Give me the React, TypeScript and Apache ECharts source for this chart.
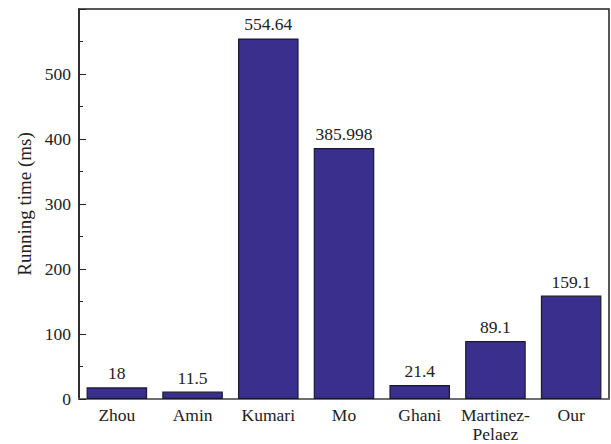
import React, { useEffect, useRef } from "react";
import * as echarts from "echarts";

const categories = ["Zhou", "Amin", "Kumari", "Mo", "Ghani", "Martinez-\nPelaez", "Our"];
const values = [18, 11.5, 554.64, 385.998, 21.4, 89.1, 159.1];
const yTicks = [0, 100, 200, 300, 400, 500];

export default function App() {
  const ref = useRef<HTMLDivElement>(null);
  useEffect(() => {
    if (!ref.current) return;
    const chart = echarts.init(ref.current, null, { renderer: "svg" });
    const font = "Liberation Serif";
    chart.setOption({
      animation: false,
      textStyle: { fontFamily: font },
      grid: {
        left: 79, top: 9, right: 2, bottom: 45,
        outerBoundsMode: "none",
        containLabel: false,
        show: true, borderColor: "#222", borderWidth: 1.5, backgroundColor: "transparent",
      },
      xAxis: {
        type: "category",
        data: categories,
        axisLine: { lineStyle: { color: "#777", width: 1.5 } },
        axisTick: { show: false },
        axisLabel: { interval: 0, color: "#222", fontSize: 17.5, fontFamily: font, margin: 6, lineHeight: 19 },
      },
      yAxis: {
        type: "value",
        min: 0,
        max: 600,
        interval: 100,
        name: "Running time (ms)",
        nameLocation: "middle",
        nameGap: 44,
        nameTextStyle: { color: "#222", fontSize: 19, fontFamily: font },
        axisLine: { show: true, lineStyle: { color: "#222", width: 1.5 } },
        axisTick: { show: true, inside: true, length: 7, lineStyle: { color: "#222" } },
        minorTick: { show: true, splitNumber: 2, length: 4, lineStyle: { color: "#222" } },
        splitLine: { show: false },
        axisLabel: {
          color: "#222",
          fontSize: 17.5,
          fontFamily: font,
          margin: 8,
          formatter: (v: number) => (yTicks.includes(v) ? String(v) : ""),
        },
      },
      series: [
        {
          type: "bar",
          data: values,
          barWidth: "80%",
          itemStyle: { color: "#3a2f8c", borderColor: "#1a1a2e", borderWidth: 1.2 },
          label: {
            show: true,
            position: "top",
            distance: 5,
            color: "#222",
            fontSize: 17.5,
            fontFamily: font,
            formatter: (p: any) => String(values[p.dataIndex]),
          },
        },
      ],
    });
    return () => chart.dispose();
  }, []);
  return <div ref={ref} style={{ width: 611, height: 444, position: "absolute", left: 0, top: 0 }} />;
}
